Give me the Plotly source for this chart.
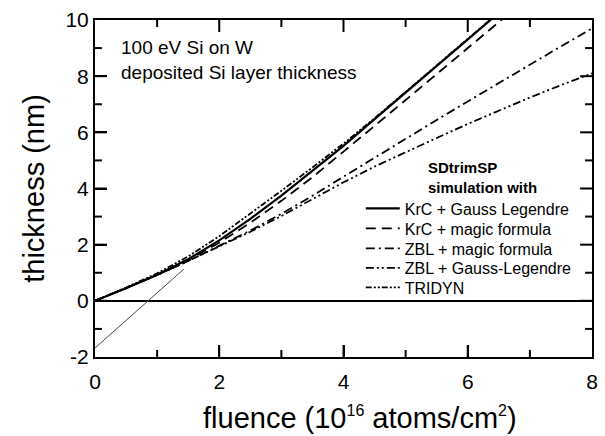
import plotly.graph_objects as go

# ---- data ----
fluence = [0, 0.5, 1, 1.5, 2, 2.5, 3, 3.5, 4, 4.5, 5, 5.5, 6, 6.5, 7, 7.5, 8]

krc_gauss = [0, 0.45, 0.93, 1.48, 2.15, 2.92, 3.75, 4.62, 5.52, 6.47, 7.42, 8.38, 9.35, 10.3, 11.2, 12.1, 13.0]
krc_magic = [0, 0.45, 0.92, 1.45, 2.07, 2.78, 3.56, 4.40, 5.30, 6.23, 7.15, 8.07, 9.0, 9.93, 10.85, 11.8, 12.7]
zbl_magic = [0, 0.45, 0.92, 1.42, 1.95, 2.50, 3.10, 3.74, 4.42, 5.10, 5.77, 6.44, 7.10, 7.76, 8.42, 9.06, 9.70]
zbl_gauss = [0, 0.45, 0.92, 1.42, 1.93, 2.46, 3.02, 3.62, 4.22, 4.78, 5.30, 5.80, 6.30, 6.78, 7.24, 7.68, 8.10]
tridyn    = [0, 0.47, 0.98, 1.58, 2.30, 3.10, 3.92, 4.75, 5.60, 6.50, 7.43, 8.38, 9.33, 10.3, 11.2, 12.1, 13.0]

fit_x = [0, 1.43]
fit_y = [-1.68, 1.13]

series_names = ["KrC + Gauss Legendre", "KrC + magic formula", "ZBL + magic formula",
                "ZBL + Gauss-Legendre", "TRIDYN"]
series_values = [krc_gauss, krc_magic, zbl_magic, zbl_gauss, tridyn]
series_dash = ["solid", "10px,6px", "9px,4px,2px,4px", "8px,3px,2px,3px,2px,3px", "6px,2px,2px,2px,2px,2px"]
series_width = [2.2, 1.8, 1.8, 1.8, 1.8]

x_ticks = [0, 2, 4, 6, 8]
x_ticktext = ["0", "2", "4", "6", "8"]
x_minor = [1, 3, 5, 7]
y_ticks = [-2, 0, 2, 4, 6, 8, 10]
y_ticktext = ["-2", "0", "2", "4", "6", "8", "10"]
y_minor = [-1, 1, 3, 5, 7, 9]

X_RANGE = [0, 8]
Y_RANGE = [-2, 10]

FONT = "Liberation Sans, Arial, sans-serif"
PLOT_W, PLOT_H = 503, 337
MAJOR_LEN, MINOR_LEN = 12, 7

fig = go.Figure()

# ---- inward frame ticks on all four sides, built from the tick lists ----
x_per_px = (X_RANGE[1] - X_RANGE[0]) / PLOT_W
y_per_px = (Y_RANGE[1] - Y_RANGE[0]) / PLOT_H
tick_xs, tick_ys = [], []
for vals, ln in ((x_ticks, MAJOR_LEN), (x_minor, MINOR_LEN)):
    for v in vals:
        if X_RANGE[0] < v < X_RANGE[1]:
            tick_xs += [v, v, None, v, v, None]
            tick_ys += [Y_RANGE[0], Y_RANGE[0] + ln * y_per_px, None,
                        Y_RANGE[1], Y_RANGE[1] - ln * y_per_px, None]
for vals, ln in ((y_ticks, MAJOR_LEN), (y_minor, MINOR_LEN)):
    for v in vals:
        if Y_RANGE[0] < v < Y_RANGE[1]:
            tick_xs += [X_RANGE[0], X_RANGE[0] + ln * x_per_px, None,
                        X_RANGE[1], X_RANGE[1] - ln * x_per_px, None]
            tick_ys += [v, v, None, v, v, None]
fig.add_trace(go.Scatter(x=tick_xs, y=tick_ys, mode="lines", showlegend=False, hoverinfo="skip",
                         line=dict(color="black", width=2)))

fig.add_trace(go.Scatter(x=fit_x, y=fit_y, mode="lines", showlegend=False,
                         line=dict(color="#444444", width=1)))

legend_ids = ["legend", "legend2", "legend3", "legend4", "legend5"]
for name, vals, dash, w, lid in zip(series_names, series_values, series_dash, series_width, legend_ids):
    fig.add_trace(go.Scatter(x=fluence, y=vals, mode="lines", name=name, legend=lid,
                             line=dict(color="black", width=w, dash=dash)))

axis_common = dict(
    showline=True, linecolor="black", linewidth=2, mirror=True,
    ticks="inside", ticklen=MAJOR_LEN, tickwidth=2, tickcolor="black",
    showgrid=False, tickfont=dict(family=FONT, size=21, color="black"),
)

fig.update_xaxes(range=X_RANGE, tickmode="array", tickvals=x_ticks, ticktext=x_ticktext,
                 zeroline=False, ticklabelstandoff=5, **axis_common)
fig.update_yaxes(range=Y_RANGE, tickmode="array", tickvals=y_ticks, ticktext=y_ticktext,
                 zeroline=True, zerolinecolor="black", zerolinewidth=2,
                 title=dict(text="thickness (nm)", font=dict(family=FONT, size=29, color="black"), standoff=12),
                 **axis_common)

row_centers_px = [208.5, 228.5, 248.5, 268.0, 287.5]
legend_layout = {}
for lid, py in zip(legend_ids, row_centers_px):
    legend_layout[lid] = dict(x=(364 - 95) / 503, y=(357 - py) / 337, xanchor="left", yanchor="middle",
                              bgcolor="rgba(0,0,0,0)", font=dict(family=FONT, size=16, color="black"),
                              itemwidth=34)

fig.update_layout(
    width=605, height=436,
    margin=dict(l=95, r=7, t=20, b=79),
    paper_bgcolor="white", plot_bgcolor="white",
    font=dict(family=FONT, color="black"),
    **legend_layout,
    annotations=[
        dict(text="100 eV Si on W<br>deposited Si layer thickness", xref="paper", yref="paper",
             x=(119 - 95) / 503, y=1 - (35 - 20) / 337, xanchor="left", yanchor="top",
             align="left", showarrow=False, font=dict(family=FONT, size=19, color="black")),
        dict(text="<b>SDtrimSP<br>simulation with</b>", xref="paper", yref="paper",
             x=(430 - 95) / 503, y=(357 - 157) / 337, xanchor="left", yanchor="top",
             align="left", showarrow=False, font=dict(family=FONT, size=15, color="black")),
        dict(text="fluence (10<sup><span style='font-size:16px'>16</span></sup> atoms/cm<sup><span style='font-size:16px'>2</span></sup>)",
             xref="paper", yref="paper",
             x=(363 - 95) / 503, y=-(418 - 357) / 337, xanchor="center", yanchor="middle",
             showarrow=False, font=dict(family=FONT, size=29, color="black")),
    ],
)

fig.write_html("out.html")
